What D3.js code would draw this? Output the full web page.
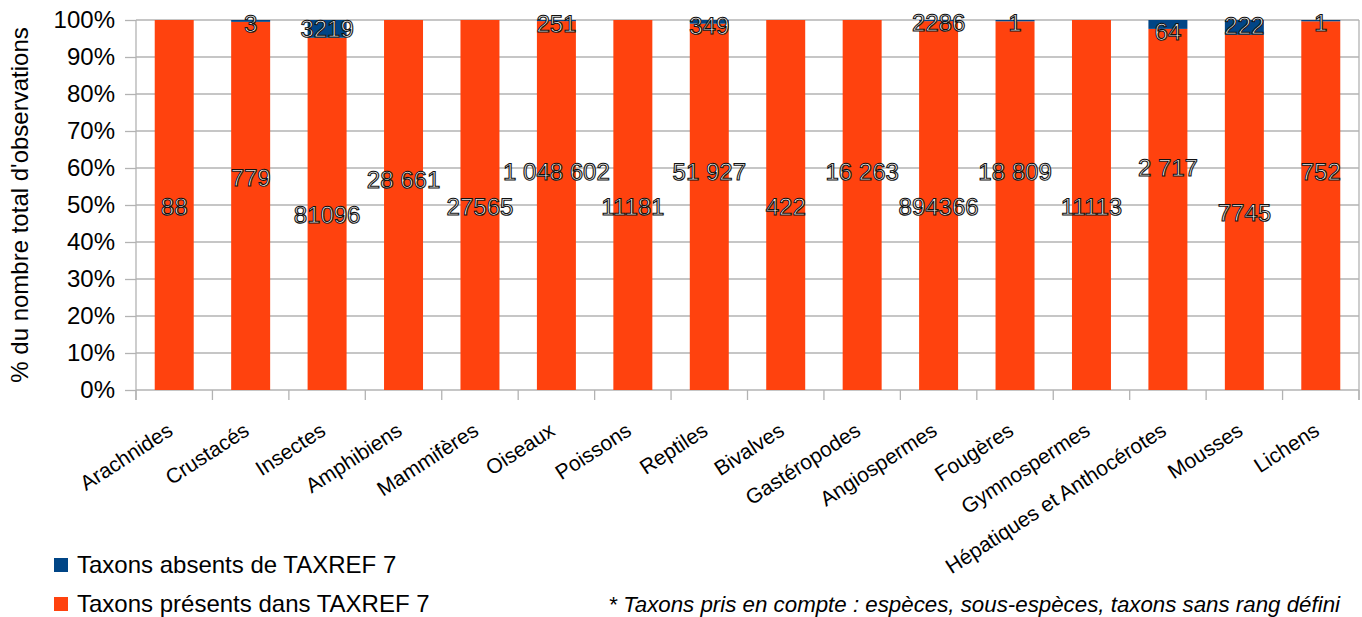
<!DOCTYPE html>
<html>
<head>
<meta charset="utf-8">
<script src="https://cdn.jsdelivr.net/npm/d3@7/dist/d3.min.js"></script>
<style>
  html, body { margin: 0; padding: 0; background: #fff; }
  svg { display: block; font-family: "Liberation Sans", Arial, sans-serif; }
  .dl { text-rendering: geometricPrecision; }
</style>
</head>
<body>
<svg id="chart" width="1362" height="617"></svg>
<script>
// ---------- DATA ----------
const categories = ["Arachnides", "Crustacés", "Insectes", "Amphibiens", "Mammifères", "Oiseaux",
  "Poissons", "Reptiles", "Bivalves", "Gastéropodes", "Angiospermes", "Fougères",
  "Gymnospermes", "Hépatiques et Anthocérotes", "Mousses", "Lichens"];
// share (%) of observations
const presentPct = [100, 99.5, 95.2, 100, 100, 99.7, 100, 99.0, 100, 100, 99.7, 99.65, 100, 97.6, 96.0, 99.65];
const absentPct  = [0, 0.5, 4.8, 0, 0, 0.3, 0, 1.0, 0, 0, 0.3, 0.35, 0, 2.4, 4.0, 0.35];
// printed labels
const presentLabels = ["88", "779", "81096", "28 661", "27565", "1 048 602", "11181", "51 927", "422",
  "16 263", "894366", "18 809", "11113", "2 717", "7745", "752"];
const absentLabels = [null, "3", "3219", null, null, "251", null, "349", null, null, "2286", "1",
  null, "64", "222", "1"];
const seriesNames = ["Taxons absents de TAXREF 7", "Taxons présents dans TAXREF 7"];
const yTicks = [0, 10, 20, 30, 40, 50, 60, 70, 80, 90, 100];
const yTitle = "% du nombre total d'observations";
const footnote = "* Taxons pris en compte : espèces, sous-espèces, taxons sans rang défini";

// ---------- LABEL PLACEMENT (layout, in % units of the y axis) ----------
const presentLabelAt = [49.5, 57.5, 47.3, 57.0, 49.5, 59.0, 49.5, 59.0, 49.5, 59.0, 49.5, 59.0, 49.5, 60.0, 48.0, 59.0];
const absentLabelAt  = [null, 98.9, 97.8, null, null, 99.1, null, 98.5, null, null, 99.2, 99.2, null, 97.0, 98.4, 99.2];

// ---------- LAYOUT ----------
const colors = { absent: "#004586", present: "#ff420e" };
const gridColor = "#b3b3b3";
const plot = { left: 136, right: 1359, top: 20, bottom: 390 };

const svg = d3.select("#chart");

const x = d3.scaleBand().domain(categories).range([plot.left, plot.right])
  .paddingInner(0.49).paddingOuter(0.245);
const y = d3.scaleLinear().domain([0, 100]).range([plot.bottom, plot.top]);

// table for stacking
const table = categories.map((c, i) => ({ cat: c, present: presentPct[i], absent: absentPct[i] }));
const stack = d3.stack().keys(["present", "absent"]);
const stacked = stack(table);

// gridlines
svg.append("g").selectAll("line").data(yTicks).join("line")
  .attr("x1", plot.left).attr("x2", plot.right)
  .attr("y1", d => y(d)).attr("y2", d => y(d))
  .attr("stroke", gridColor).attr("stroke-width", 1.3);

// y axis
const yAxis = svg.append("g").attr("transform", `translate(${plot.left},0)`)
  .call(d3.axisLeft(y).tickValues(yTicks).tickFormat(d => d + "%").tickSize(11).tickPadding(10));
yAxis.select(".domain").remove();
yAxis.selectAll(".tick line").attr("stroke", gridColor).attr("stroke-width", 1.3);
yAxis.selectAll(".tick text").attr("font-size", 24).attr("fill", "#000")
  .attr("font-family", "'Liberation Sans', Arial, sans-serif");

// left and right plot borders
svg.append("line").attr("x1", plot.left).attr("x2", plot.left)
  .attr("y1", plot.top).attr("y2", plot.bottom + 10).attr("stroke", gridColor).attr("stroke-width", 1.3);
svg.append("line").attr("x1", plot.right).attr("x2", plot.right)
  .attr("y1", plot.top).attr("y2", plot.bottom + 10).attr("stroke", gridColor).attr("stroke-width", 1.3);

// x tick marks at band boundaries
const boundaries = d3.range(categories.length + 1).map(i => plot.left + i * x.step());
svg.append("g").selectAll("line").data(boundaries).join("line")
  .attr("x1", d => d).attr("x2", d => d)
  .attr("y1", plot.bottom).attr("y2", plot.bottom + 10)
  .attr("stroke", gridColor).attr("stroke-width", 1.3);

// bars
svg.append("g").selectAll("g").data(stacked).join("g")
  .attr("fill", d => colors[d.key])
  .selectAll("rect").data(d => d).join("rect")
  .attr("x", d => x(d.data.cat))
  .attr("width", x.bandwidth())
  .attr("y", d => y(d[1]))
  .attr("height", d => y(d[0]) - y(d[1]));

// x category labels
svg.append("g").selectAll("text").data(categories).join("text")
  .attr("transform", d => `translate(${x(d) + x.bandwidth() / 2},434) rotate(-33)`)
  .attr("text-anchor", "end")
  .attr("font-size", 21)
  .attr("fill", "#000")
  .text(d => d);

// data labels (outlined)
function outlined(sel) {
  sel.attr("class", "dl").attr("text-anchor", "middle").attr("dy", "0.35em")
    .attr("font-size", 24).attr("fill", "#fff")
    .attr("stroke", "#111").attr("stroke-width", 1.1);
}
const lbl = svg.append("g");
lbl.selectAll("text.p").data(categories).join("text")
  .call(outlined)
  .attr("x", d => x(d) + x.bandwidth() / 2)
  .attr("y", (d, i) => y(presentLabelAt[i]))
  .text((d, i) => presentLabels[i]);
const absentIdx = categories.map((c, i) => i).filter(i => absentLabels[i] !== null);
lbl.selectAll("text.a").data(absentIdx).join("text")
  .call(outlined)
  .attr("x", i => x(categories[i]) + x.bandwidth() / 2)
  .attr("y", i => y(absentLabelAt[i]))
  .text(i => absentLabels[i]);

// y title
svg.append("text")
  .attr("transform", `translate(28,${(plot.top + plot.bottom) / 2}) rotate(-90)`)
  .attr("text-anchor", "middle").attr("font-size", 24).attr("fill", "#000")
  .text(yTitle);

// legend
const legend = svg.append("g");
const legendRows = [
  { name: seriesNames[0], color: colors.absent, cy: 565 },
  { name: seriesNames[1], color: colors.present, cy: 604 }
];
legend.selectAll("rect").data(legendRows).join("rect")
  .attr("x", 54).attr("y", d => d.cy - 7).attr("width", 14).attr("height", 14)
  .attr("fill", d => d.color);
legend.selectAll("text").data(legendRows).join("text")
  .attr("x", 77).attr("y", d => d.cy).attr("dy", "0.35em")
  .attr("font-size", 24).attr("fill", "#000")
  .text(d => d.name);

// footnote
svg.append("text")
  .attr("x", 1340).attr("y", 612).attr("text-anchor", "end")
  .attr("font-size", 22.3).attr("font-style", "italic").attr("fill", "#000")
  .text(footnote);
</script>
</body>
</html>
